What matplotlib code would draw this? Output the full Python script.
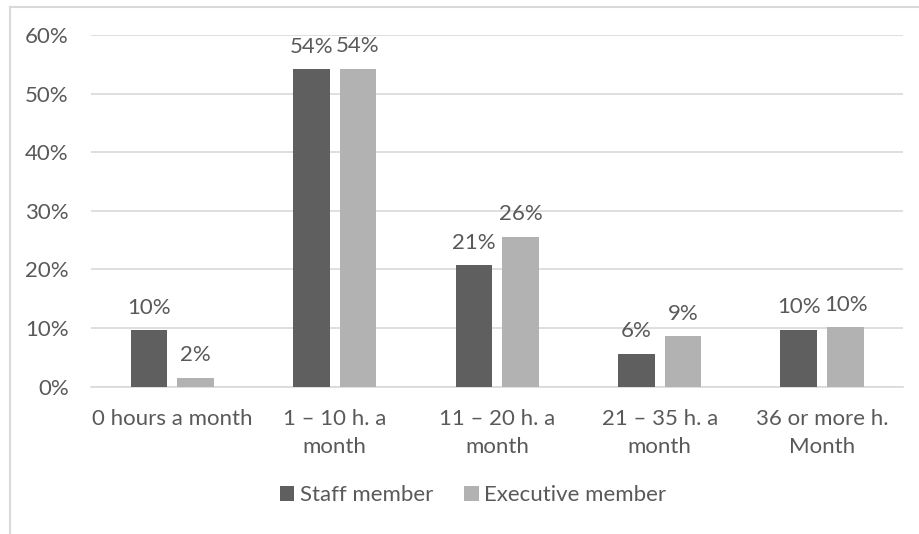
import matplotlib
matplotlib.use("Agg")
import matplotlib.pyplot as plt
from matplotlib.lines import Line2D
from matplotlib.ticker import PercentFormatter
import numpy as np

categories = ["0 hours a month", "1 \u2013 10 h. a\nmonth", "11 \u2013 20 h. a\nmonth",
              "21 \u2013 35 h. a\nmonth", "36 or more h.\nMonth"]
staff = [0.096, 0.542, 0.207, 0.056, 0.097]
executive = [0.015, 0.543, 0.256, 0.086, 0.101]
series_names = ["Staff member", "Executive member"]
y_ticks = [0, 0.1, 0.2, 0.3, 0.4, 0.5, 0.6]

text_color = "#595959"
grid_color = "#d9d9d9"
colors = ["#5f5f5f", "#b2b2b2"]
fs = 16

plt.rcParams["font.family"] = ["Lato", "DejaVu Sans"]

fig = plt.figure(figsize=(9.19, 5.34), dpi=100)
ax = fig.add_axes([0.099, 0.276, 0.884, 0.658])

# chart frame of the spreadsheet export (only top and left edges are inside the image)
fx, fy = 9.5 / 919, 1 - 6.5 / 534
fig.lines.append(Line2D([fx, 1.0], [fy, fy], transform=fig.transFigure,
                        color=grid_color, linewidth=1.5))
fig.lines.append(Line2D([fx, fx], [0.0, fy], transform=fig.transFigure,
                        color=grid_color, linewidth=1.5))

x = np.arange(len(categories))
width = 0.225
offset = 0.144
bars1 = ax.bar(x - offset, staff, width, color=colors[0], label=series_names[0], zorder=3)
bars2 = ax.bar(x + offset, executive, width, color=colors[1], label=series_names[1], zorder=3)

for bars in (bars1, bars2):
    for b in bars:
        h = b.get_height()
        ax.annotate(f"{h * 100:.0f}%", (b.get_x() + b.get_width() / 2, h),
                    xytext=(0, 9), textcoords="offset points", ha="center", va="bottom",
                    fontsize=fs, color=text_color)

ax.set_xlim(-0.5, len(categories) - 0.5)
ax.set_ylim(0, 0.6)
ax.set_yticks(y_ticks)
ax.yaxis.set_major_formatter(PercentFormatter(1.0, decimals=0))
ax.set_xticks(x)
ax.set_xticklabels(categories, linespacing=1.5)
ax.tick_params(axis="both", length=0, labelsize=fs, colors=text_color)
ax.tick_params(axis="x", pad=16)
ax.tick_params(axis="y", pad=16)

ax.grid(axis="y", color=grid_color, linewidth=1.2, zorder=0)
for s in ("top", "right", "left"):
    ax.spines[s].set_visible(False)
ax.spines["bottom"].set_color(grid_color)
ax.spines["bottom"].set_linewidth(1.2)

fig.legend(loc="center", bbox_to_anchor=(0.515, 0.073), ncol=2, frameon=False,
           fontsize=fs, labelcolor=text_color, handlelength=0.65, handleheight=0.65,
           handletextpad=0.25, columnspacing=1.4)

fig.savefig("out.png", dpi=100)
plt.close(fig)
